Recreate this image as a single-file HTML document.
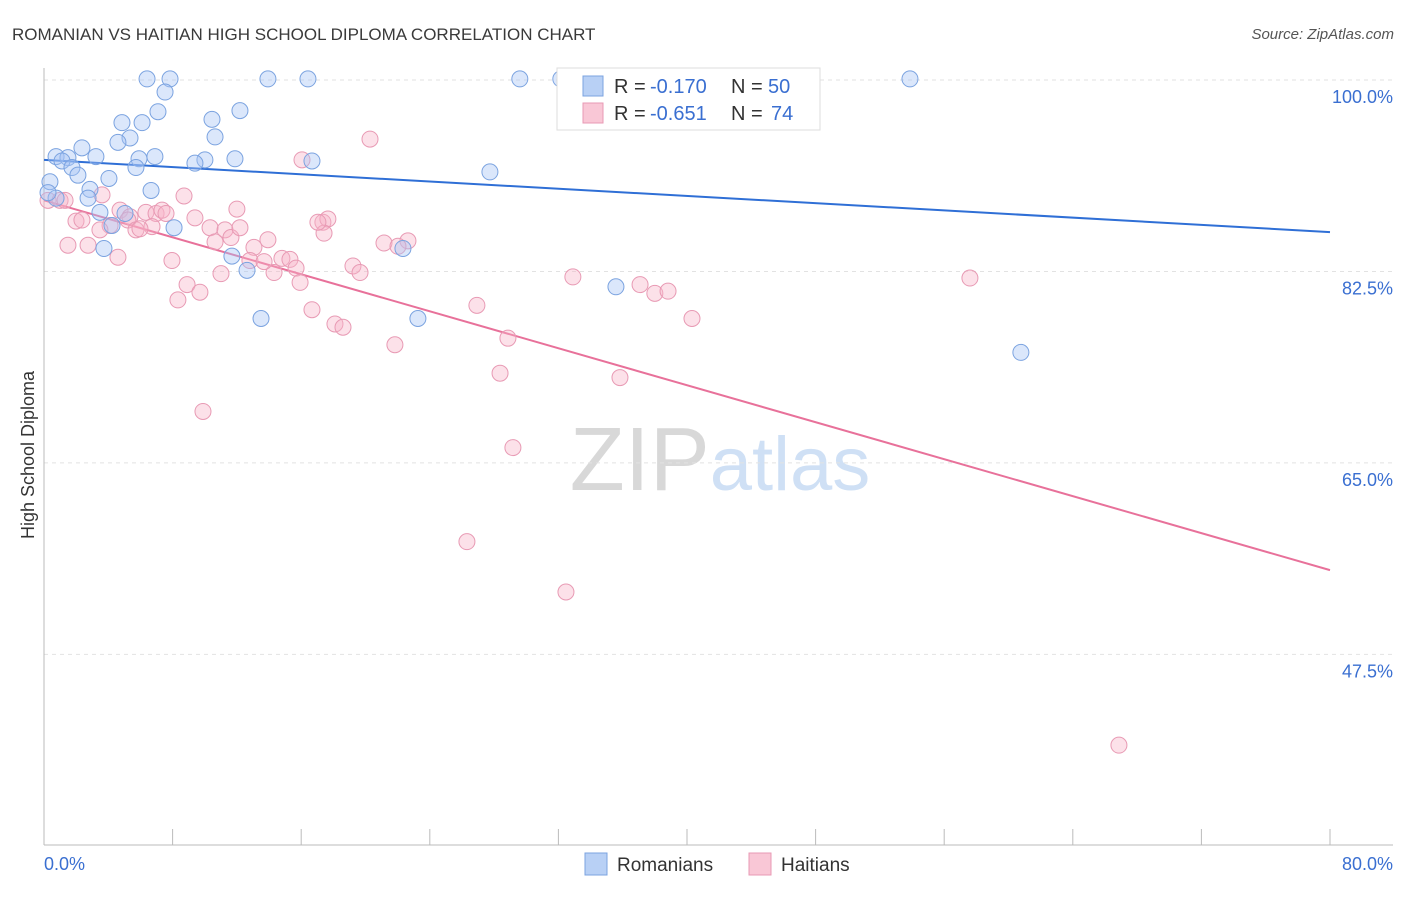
<!DOCTYPE html>
<html><head><meta charset="utf-8"><style>
body{margin:0;background:#fff;font-family:"Liberation Sans",sans-serif;}
svg text{font-family:"Liberation Sans",sans-serif;}
</style></head><body>
<svg id="chart" width="1406" height="892" viewBox="0 0 1406 892" xmlns="http://www.w3.org/2000/svg">
<text x="12" y="40" font-size="17" fill="#3a3a3a">ROMANIAN VS HAITIAN HIGH SCHOOL DIPLOMA CORRELATION CHART</text>
<text x="1394" y="39" font-size="15" fill="#555" text-anchor="end" font-style="italic">Source: ZipAtlas.com</text>
<text x="720" y="490" font-size="90" text-anchor="middle" font-family="Liberation Serif"><tspan fill="#d8d8d8">ZIP</tspan><tspan fill="#cfe0f5" font-family="Liberation Sans" font-size="76">atlas</tspan></text>
<text transform="translate(34,455) rotate(-90)" font-size="18" fill="#333" text-anchor="middle">High School Diploma</text>
<g id="grid"></g><g id="axes"></g><g id="lines"></g><g id="pts"></g>
<g>
<rect x="557" y="68" width="263" height="62" fill="#fff" stroke="#ddd"/>
<rect x="583" y="76" width="20" height="20" fill="#b8d0f5" stroke="#7ba3e0"/>
<text x="614" y="93" font-size="20" fill="#333">R =</text>
<text x="650" y="93" font-size="20" fill="#3a6fd1">-0.170</text>
<text x="731" y="93" font-size="20" fill="#333">N =</text>
<text x="768" y="93" font-size="20" fill="#3a6fd1">50</text>
<rect x="583" y="103" width="20" height="20" fill="#f9c7d6" stroke="#e89ab4"/>
<text x="614" y="120" font-size="20" fill="#333">R =</text>
<text x="650" y="120" font-size="20" fill="#3a6fd1">-0.651</text>
<text x="731" y="120" font-size="20" fill="#333">N =</text>
<text x="771" y="120" font-size="20" fill="#3a6fd1">74</text>
</g>
<g>
<rect x="585" y="853" width="22" height="22" fill="#b8d0f5" stroke="#7ba3e0"/>
<text x="617" y="871" font-size="19" fill="#333">Romanians</text>
<rect x="749" y="853" width="22" height="22" fill="#f9c7d6" stroke="#e89ab4"/>
<text x="781" y="871" font-size="19" fill="#333">Haitians</text>
</g>
</svg>
<script>
const yTicks=[100,82.5,65,47.5];
const yTickLabels=["100.0%","82.5%","65.0%","47.5%"];
const xEndLabels=["0.0%","80.0%"];
const blueX=[6.41,7.84,13.93,16.42,29.6,32.15,53.87,7.53,7.09,12.19,10.45,4.85,6.1,5.35,4.6,10.64,2.36,0.75,1.49,3.23,6.9,5.91,10.01,11.88,9.39,16.67,1.12,1.74,5.72,2.11,27.74,4.04,0.37,2.86,6.66,0.75,2.74,3.48,5.04,4.23,8.09,3.73,11.69,22.33,12.63,35.58,13.5,23.26,60.77,0.25];
const blueY=[100.1,100.1,100.1,100.1,100.1,100.1,100.1,98.9,97.1,97.2,96.4,96.1,96.1,94.7,94.3,94.8,93.8,93.0,92.9,93.0,93.0,92.8,92.7,92.8,92.4,92.6,92.6,92.0,92.0,91.3,91.6,91.0,90.7,90.0,89.9,89.2,89.2,87.9,87.8,86.7,86.5,84.6,83.9,84.6,82.6,81.1,78.2,78.2,75.1,89.7];
const pinkX=[20.28,16.05,8.71,3.61,0.25,1.0,1.31,4.73,6.34,6.97,7.34,7.59,9.39,5.35,12.0,1.99,2.36,4.11,5.22,6.72,5.72,5.97,10.33,11.26,11.63,12.19,10.64,13.93,17.35,17.66,17.42,21.15,22.64,22.02,1.49,2.74,4.6,7.96,13.06,12.81,14.8,15.3,15.68,14.31,11.01,13.69,15.93,19.22,19.66,8.9,9.7,8.33,16.67,18.1,18.6,21.83,26.93,32.9,37.08,38.0,38.82,40.31,57.6,28.86,28.37,35.83,9.89,29.17,26.31,32.47,66.87,3.48,17.04];
const pinkY=[94.6,92.7,89.4,89.5,89.0,89.0,89.0,88.1,87.9,87.8,88.1,87.8,87.4,87.5,88.2,87.1,87.2,86.7,87.2,86.6,86.3,86.4,86.5,86.3,85.6,86.5,85.2,85.4,87.0,87.3,86.0,85.1,85.3,84.8,84.9,84.9,83.8,83.5,84.7,83.5,83.7,83.6,82.8,82.4,82.3,83.4,81.5,83.0,82.4,81.3,80.6,79.9,79.0,77.7,77.4,75.8,79.4,82.0,81.3,80.5,80.7,78.2,81.9,76.4,73.2,72.8,69.7,66.4,57.8,53.2,39.2,86.3,87.0];
const blueTrend=[92.7,86.1];
const pinkTrend=[89.0,55.2];
const NS="http://www.w3.org/2000/svg";
const X0=44,X1=1330,Y100=80,PXPER=10.94;
function sx(v){return X0+(X1-X0)*v/80;}
function sy(v){return Y100+(100-v)*PXPER;}
function mk(tag,attrs,parent){const e=document.createElementNS(NS,tag);for(const k in attrs)e.setAttribute(k,attrs[k]);parent.appendChild(e);return e;}
const grid=document.getElementById('grid'),axes=document.getElementById('axes'),lines=document.getElementById('lines'),pts=document.getElementById('pts');
yTicks.forEach((t,i)=>{
 const l=mk('line',{x1:44,x2:1393,y1:sy(t),y2:sy(t),stroke:'#e2e2e2','stroke-dasharray':'4,4'},grid);
 
 
 const tx=mk('text',{x:1393,y:sy(t)+23,'font-size':18,fill:'#3a6fd1','text-anchor':'end'},axes);
 tx.textContent=yTickLabels[i];
 
 
});
const ax=mk('line',{x1:44,x2:44,y1:68,y2:845,stroke:'#bbb'},axes);


const bx=mk('line',{x1:44,x2:1393,y1:845,y2:845,stroke:'#bbb'},axes);


for(let v=0;v<=80;v+=8){
 const t=mk('line',{x1:sx(v),x2:sx(v),y1:829,y2:845,stroke:'#bbb'},axes);
 
 
}
[[0,'start'],[80,'end']].forEach((p,i)=>{
 const t=mk('text',{x:i?1393:44,y:870,'font-size':18,fill:'#3a6fd1','text-anchor':p[1]},axes);
 t.textContent=xEndLabels[i];
 
 
});
function dots(xs,ys,fill,stroke,name){
 xs.forEach((x,i)=>{
  const c=mk('circle',{cx:sx(x),cy:sy(ys[i]),r:8,fill:fill,stroke:stroke,'stroke-width':1},pts);
  
  
 });
}
dots(pinkX,pinkY,'rgba(248,180,200,0.4)','#e89ab4','haitian-point');
dots(blueX,blueY,'rgba(164,194,244,0.4)','#7ba3e0','romanian-point');
const bl=mk('line',{x1:sx(0),y1:sy(blueTrend[0]),x2:sx(80),y2:sy(blueTrend[1]),stroke:'#2f6fd6','stroke-width':2},lines);


const pl=mk('line',{x1:sx(0),y1:sy(pinkTrend[0]),x2:sx(80),y2:sy(pinkTrend[1]),stroke:'#e8719a','stroke-width':2},lines);


</script>
</body></html>
